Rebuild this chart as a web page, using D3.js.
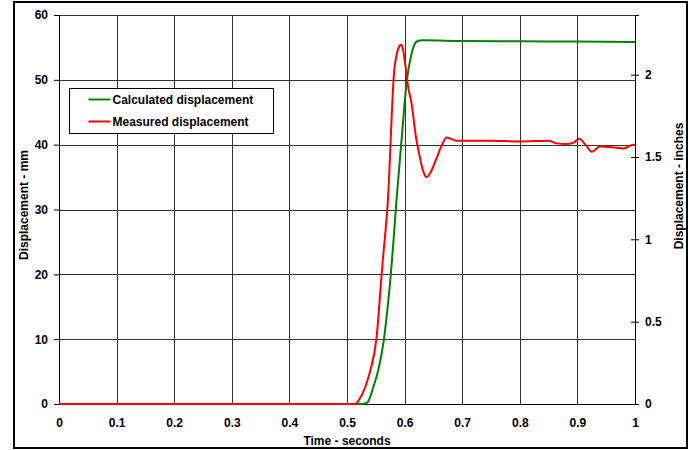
<!DOCTYPE html>
<html>
<head>
<meta charset="utf-8">
<script src="https://cdn.jsdelivr.net/npm/d3@7"></script>
<style>
  body { margin: 0; background: #fff; }
  text { font-family: "Liberation Sans", Arial, sans-serif; font-weight: bold; font-size: 12px; fill: #000; }
</style>
</head>
<body>
<script>
// time (s) and displacement (mm)
var calcTime = [0, 0.1, 0.2, 0.3, 0.4, 0.5, 0.525, 0.535, 0.546, 0.555, 0.564, 0.57, 0.576, 0.581, 0.586, 0.595, 0.604, 0.612, 0.618, 0.623, 0.63, 0.7, 0.8, 0.9, 1.0];
var calcMm   = [0, 0, 0, 0, 0, 0, 0, 0.2, 2.7, 5.5, 9.9, 14.5, 19.9, 25.5, 31.5, 41, 50, 54, 55.6, 56.0, 56.1, 56.0, 55.95, 55.9, 55.85];

var measTime = [0, 0.1, 0.2, 0.3, 0.4, 0.5, 0.514, 0.522, 0.532, 0.54, 0.551, 0.561, 0.571, 0.582, 0.587, 0.591, 0.594, 0.597, 0.601, 0.606, 0.612, 0.62, 0.625, 0.632, 0.638, 0.645, 0.655, 0.665, 0.673, 0.69, 0.75, 0.8, 0.85, 0.864, 0.88, 0.893, 0.903, 0.914, 0.925, 0.939, 0.96, 0.98, 0.997, 1.0];
var measMm   = [0, 0, 0, 0, 0, 0, 0, 0.8, 2.7, 5, 10, 21, 31.5, 51.5, 54.2, 55.2, 55.4, 54.8, 52.5, 49, 46.4, 41, 38.7, 36, 35, 35.7, 37.8, 40, 41.1, 40.6, 40.6, 40.5, 40.6, 40.2, 40.1, 40.3, 40.9, 40, 38.9, 39.7, 39.6, 39.4, 40, 39.9];

var xTicks = [0, 0.1, 0.2, 0.3, 0.4, 0.5, 0.6, 0.7, 0.8, 0.9, 1];
var mmTicks = [0, 10, 20, 30, 40, 50, 60];
var inchTicks = [0, 0.5, 1, 1.5, 2];

var seriesNames = ["Calculated displacement", "Measured displacement"];
var seriesColors = ["#008000", "#ff0000"];

var W = 693, H = 450;
var margin = { top: 15, right: 58, bottom: 46, left: 59 };
var w = W - margin.left - margin.right;
var h = H - margin.top - margin.bottom;

var svg = d3.select("body").append("svg")
  .attr("width", W)
  .attr("height", H);

// outer frame
svg.append("rect")
  .attr("x", 14).attr("y", 2)
  .attr("width", 673).attr("height", 446)
  .attr("fill", "none")
  .attr("stroke", "#000")
  .attr("stroke-width", 2);

var g = svg.append("g")
  .attr("transform", "translate(" + margin.left + "," + margin.top + ")");

var x = d3.scaleLinear().domain([0, 1]).range([0, w]);
var y = d3.scaleLinear().domain([0, 60]).range([h, 0]);
var yIn = d3.scaleLinear().domain([0, 60 / 25.4]).range([h, 0]);

// grid
g.append("g").selectAll("line")
  .data(mmTicks).enter().append("line")
  .attr("x1", 0).attr("x2", w)
  .attr("y1", function(d) { return Math.round(y(d)) + 0.5; })
  .attr("y2", function(d) { return Math.round(y(d)) + 0.5; })
  .attr("stroke", "#333");

g.append("g").selectAll("line")
  .data(xTicks).enter().append("line")
  .attr("y1", 0).attr("y2", h)
  .attr("x1", function(d) { return Math.round(x(d)) + 0.5; })
  .attr("x2", function(d) { return Math.round(x(d)) + 0.5; })
  .attr("stroke", "#333");

// axes
var xAxis = d3.axisBottom(x).tickValues(xTicks).tickSize(0).tickPadding(14)
  .tickFormat(d3.format("~g"));
var yAxis = d3.axisLeft(y).tickValues(mmTicks).tickSize(5).tickPadding(6);
var yAxisR = d3.axisRight(yIn).tickValues(inchTicks).tickSize(4).tickPadding(6)
  .tickFormat(d3.format("~g"));

var gx = g.append("g").attr("transform", "translate(0," + h + ")").call(xAxis);
var gy = g.append("g").call(yAxis);
var gr = g.append("g").attr("transform", "translate(" + w + ",0)").call(yAxisR);
// right ticks cross the axis line
gr.selectAll(".tick line").attr("x1", -4);

[gx, gy, gr].forEach(function(a) {
  a.selectAll(".domain").attr("stroke", "#000");
  a.selectAll(".tick line").attr("stroke", "#000");
  a.selectAll("text").style("font-family", "'Liberation Sans', Arial, sans-serif")
    .style("font-weight", "bold").style("font-size", "12px").attr("fill", "#000");
  a.attr("font-size", null).attr("font-family", null);
});

// series
var line = d3.line()
  .x(function(d) { return x(d[0]); })
  .y(function(d) { return y(d[1]); })
  .curve(d3.curveMonotoneX);

var calc = calcTime.map(function(t, i) { return [t, calcMm[i]]; });
var meas = measTime.map(function(t, i) { return [t, measMm[i]]; });

g.append("path").datum(calc)
  .attr("d", line)
  .attr("fill", "none")
  .attr("stroke", seriesColors[0])
  .attr("stroke-width", 2);

g.append("path").datum(meas)
  .attr("d", line)
  .attr("fill", "none")
  .attr("stroke", seriesColors[1])
  .attr("stroke-width", 2);

// axis titles
svg.append("text")
  .attr("text-anchor", "middle")
  .attr("transform", "translate(28,205) rotate(-90)")
  .text("Displacement - mm");

svg.append("text")
  .attr("text-anchor", "middle")
  .attr("transform", "translate(683,186) rotate(-90)")
  .text("Displacement - inches");

svg.append("text")
  .attr("text-anchor", "middle")
  .attr("x", 347).attr("y", 445)
  .text("Time - seconds");

// legend
var lg = svg.append("g").attr("transform", "translate(69.5,88.5)");
lg.append("rect")
  .attr("width", 204).attr("height", 45)
  .attr("fill", "#fff")
  .attr("stroke", "#000");

seriesNames.forEach(function(name, i) {
  var yy = 11 + i * 22;
  lg.append("line")
    .attr("x1", 19).attr("x2", 41)
    .attr("y1", yy).attr("y2", yy)
    .attr("stroke", seriesColors[i])
    .attr("stroke-width", 2);
  lg.append("text")
    .attr("x", 43).attr("y", yy + 4)
    .text(name);
});
</script>
</body>
</html>
